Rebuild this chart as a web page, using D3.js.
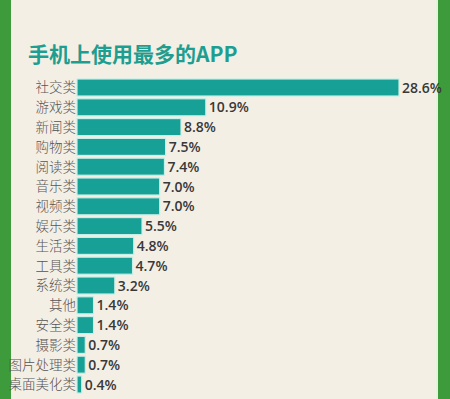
<!DOCTYPE html>
<html>
<head>
<meta charset="utf-8">
<script src="https://cdn.jsdelivr.net/npm/d3@7"></script>
<style>
  body { margin: 0; background: #f4efe5; }
  svg { display: block; }
</style>
</head>
<body>
<script>
const width = 450;
const height = 399;

const categories = ['社交类', '游戏类', '新闻类', '购物类', '阅读类', '音乐类', '视频类', '娱乐类',
    '生活类', '工具类', '系统类', '其他', '安全类', '摄影类', '图片处理类', '桌面美化类'];
const values = [28.6, 10.9, 8.8, 7.5, 7.4, 7.0, 7.0, 5.5, 4.8, 4.7, 3.2, 1.4, 1.4, 0.7, 0.7, 0.4];
const title = '手机上使用最多的APP';

const data = categories.map((c, i) => ({ name: c, value: values[i] }));

const svg = d3.select('body').append('svg')
    .attr('width', width)
    .attr('height', height);

svg.append('rect')
    .attr('width', width)
    .attr('height', height)
    .attr('fill', '#f4efe5');

// green side borders
svg.append('rect').attr('x', 0).attr('y', 0).attr('width', 11).attr('height', height).attr('fill', '#3d9b3b');
svg.append('rect').attr('x', 436).attr('y', 0).attr('width', 2).attr('height', height).attr('fill', '#e4f3dc');
svg.append('rect').attr('x', 438).attr('y', 0).attr('width', 12).attr('height', height).attr('fill', '#3d9b3b');

svg.append('text')
    .attr('x', 28)
    .attr('y', 62)
    .style('font-family', '"Noto Sans CJK SC", sans-serif')
    .style('font-size', '21px')
    .style('font-weight', 'bold')
    .attr('fill', '#1e9e90')
    .text(title);

const x0 = 77;
// the picture squeezes the longest bar, so the scale has a bend
const xScale = d3.scaleLinear()
    .domain([0, 11, 28.6])
    .range([0, 130, 322]);

const yScale = d3.scaleBand()
    .domain(categories)
    .range([78, 394])
    .paddingInner(0.14)
    .paddingOuter(0.05);

const rows = svg.selectAll('.row')
    .data(data)
    .enter().append('g')
    .attr('class', 'row')
    .attr('transform', d => 'translate(0,' + yScale(d.name) + ')');

rows.append('rect')
    .attr('x', x0)
    .attr('y', 0)
    .attr('width', d => xScale(d.value))
    .attr('height', yScale.bandwidth())
    .attr('fill', '#17a096')
    .attr('stroke', '#c6efe8')
    .attr('stroke-width', 1.2);

rows.append('text')
    .attr('x', x0 - 1)
    .attr('y', yScale.bandwidth() / 2)
    .attr('dy', '0.36em')
    .attr('text-anchor', 'end')
    .style('font-family', '"Noto Sans CJK SC", sans-serif')
    .style('font-size', '13.5px')
    .style('font-weight', '300')
    .attr('fill', '#555')
    .text(d => d.name);

rows.append('text')
    .attr('x', d => x0 + xScale(d.value) + 3)
    .attr('y', yScale.bandwidth() / 2)
    .attr('dy', '0.36em')
    .style('font-family', '"Open Sans", sans-serif')
    .style('font-size', '14px')
    .style('font-weight', '600')
    .attr('fill', '#383838')
    .text(d => d.value.toFixed(1) + '%');
</script>
</body>
</html>
